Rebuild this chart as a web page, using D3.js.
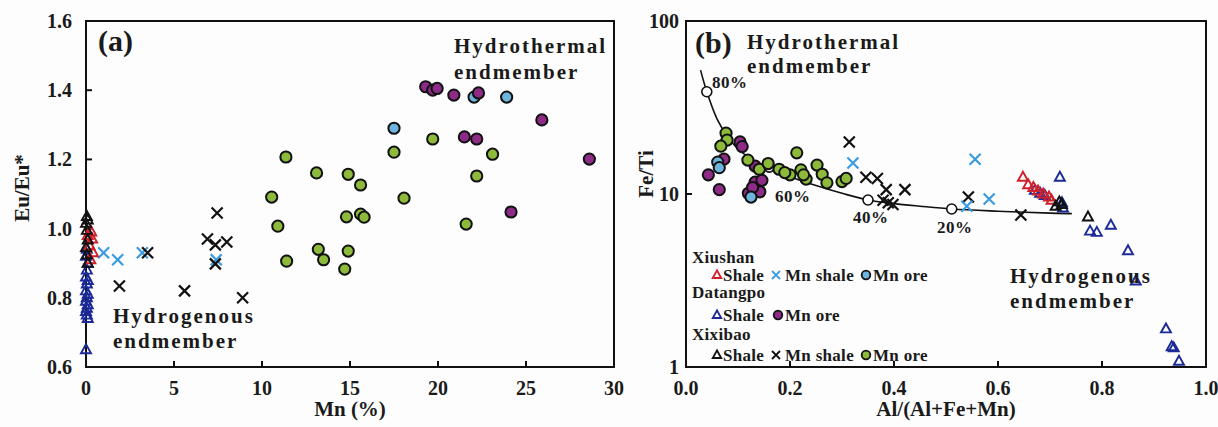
<!DOCTYPE html>
<html>
<head>
<meta charset="utf-8">
<script src="https://cdn.jsdelivr.net/npm/d3@7"></script>
<style>
  html, body { margin: 0; padding: 0; background: #fdfdfd; }
  svg { display: block; }
  text { font-family: "Liberation Serif", "Times New Roman", serif; font-weight: bold; fill: #1a1a1a; }
</style>
</head>
<body>
<svg id="chart" width="1218" height="427"></svg>
<script>
// ---------- Panel (a): Mn (%) vs Eu/Eu* ----------
const aTicksX = [0, 5, 10, 15, 20, 25, 30];
const aTicksY = [0.6, 0.8, 1.0, 1.2, 1.4, 1.6];

const aXiushanShale   = [[0.3,0.99],[0.1,0.98],[0.35,0.97],[0.2,0.95],[0.4,0.93],[0.25,0.91]];
const aXiushanMnShale = [[1.0,0.93],[1.8,0.91],[3.2,0.93],[7.4,0.91]];
const aXiushanMnOre   = [[17.5,1.29],[22.05,1.38],[23.9,1.38]];
const aDatangpoShale  = [[0.05,0.94],[0.0,0.92],[0.1,0.90],[0.05,0.88],[0.0,0.86],[0.1,0.85],[0.05,0.84],
                         [0.0,0.82],[0.1,0.81],[0.05,0.80],[0.0,0.79],[0.1,0.78],[0.05,0.77],[0.0,0.76],
                         [0.05,0.75],[0.1,0.74],[0.0,0.65]];
const aDatangpoMnOre  = [[19.3,1.41],[19.7,1.40],[19.95,1.405],[20.9,1.386],[22.3,1.392],[25.9,1.314],
                         [21.5,1.265],[22.2,1.259],[28.6,1.201],[24.15,1.048]];
const aXixibaoShale   = [[0.05,1.035],[0.1,1.025],[0.0,1.015],[0.05,0.995],[0.1,0.967],[0.0,0.945],
                         [0.05,0.924],[0.1,0.90]];
const aXixibaoMnShale = [[3.5,0.93],[1.9,0.834],[5.6,0.82],[8.9,0.80],[7.45,1.045],[6.9,0.97],
                         [7.35,0.953],[8.0,0.961],[7.35,0.898]];
const aXixibaoMnOre   = [[11.36,1.207],[13.1,1.161],[14.9,1.157],[15.6,1.126],[10.55,1.091],[10.9,1.007],
                         [14.8,1.034],[15.6,1.042],[15.8,1.033],[13.2,0.94],[13.5,0.91],[14.9,0.935],
                         [14.7,0.883],[11.4,0.906],[17.5,1.221],[19.7,1.259],[23.1,1.215],[22.2,1.152],
                         [18.07,1.088],[21.6,1.013]];

// ---------- Panel (b): Al/(Al+Fe+Mn) vs Fe/Ti ----------
const bTicksX = [0.0, 0.2, 0.4, 0.6, 0.8, 1.0];
const bTicksY = [1, 10, 100];

const bXiushanShale   = [[0.648,12.5],[0.658,11.3],[0.668,10.9],[0.677,10.4],[0.687,10.0],[0.698,9.6],[0.703,9.2]];
const bXiushanMnShale = [[0.321,15.1],[0.556,15.9],[0.583,9.35],[0.54,8.5]];
const bXiushanMnOre   = [[0.061,15.3],[0.064,14.2],[0.125,9.6]];
const bDatangpoShale  = [[0.671,10.5],[0.681,10.1],[0.69,9.8],[0.719,12.5],[0.723,8.9],[0.725,8.3],
                         [0.777,6.1],[0.79,6.0],[0.817,6.6],[0.85,4.7],[0.865,3.14],[0.923,1.66],
                         [0.934,1.31],[0.938,1.29],[0.948,1.08]];
const bDatangpoMnOre  = [[0.043,12.9],[0.064,10.6],[0.073,15.9],[0.104,20.0],[0.108,18.8],[0.133,14.5],
                         [0.133,11.7],[0.146,12.0],[0.12,10.1],[0.142,10.3],[0.128,10.9]];
const bXixibaoShale   = [[0.711,8.5],[0.718,9.0],[0.723,8.7],[0.773,7.36]];
const bXixibaoMnShale = [[0.314,20.0],[0.346,12.5],[0.368,12.3],[0.385,10.6],[0.421,10.6],[0.379,9.2],
                         [0.389,8.9],[0.398,8.7],[0.543,9.6],[0.644,7.56]];
const bXixibaoMnOre   = [[0.077,22.5],[0.079,20.5],[0.067,18.9],[0.119,15.7],[0.141,13.9],[0.158,15.0],
                         [0.179,13.9],[0.2,12.9],[0.213,17.3],[0.221,13.8],[0.231,12.2],[0.252,14.7],
                         [0.262,13.0],[0.271,11.6],[0.3,11.8],[0.308,12.3],[0.19,13.3],[0.226,12.9]];

// Hydrothermal–hydrogenous mixing curve and its percentage marks
const mixCurve = [[0.028,52],[0.04,39],[0.06,27],[0.08,21.5],[0.10,18.2],[0.14,15],[0.2,12.6],
                  [0.25,11.2],[0.3,10.1],[0.35,9.23],[0.4,8.8],[0.45,8.5],[0.511,8.19],[0.6,7.95],
                  [0.7,7.75],[0.742,7.7]];
const mixMarks = [[0.04,39],[0.16,14.3],[0.35,9.23],[0.511,8.19]];
const mixLabels = ["80%", "60%", "40%", "20%"];

// ---------- Styles ----------
const C = {
  green: "#8dba3b", purple: "#8d2b86", lightBlue: "#6db5dc", blueX: "#3b9be0",
  red: "#d0202a", navy: "#1b2a96", black: "#111111"
};

const svg = d3.select("#chart");
svg.append("rect").attr("width", 1218).attr("height", 427).attr("fill", "#fdfdfd");

const xA = d3.scaleLinear().domain([0, 30]).range([86, 614]);
const yA = d3.scaleLinear().domain([0.6, 1.6]).range([367, 21]);
const xB = d3.scaleLinear().domain([0, 1]).range([686, 1206]);
const yB = d3.scaleLog().domain([1, 100]).range([367, 21]);

function triPath(s) { return `M0,${-s*1.1}L${s},${s*0.7}L${-s},${s*0.7}Z`; }

function drawCircles(g, data, xs, ys, fill, r = 5.6) {
  g.selectAll(null).data(data).enter().append("circle")
    .attr("cx", d => xs(d[0])).attr("cy", d => ys(d[1])).attr("r", r)
    .attr("fill", fill).attr("stroke", C.black).attr("stroke-width", 2);
}
function drawCrosses(g, data, xs, ys, color, s = 5.5) {
  g.selectAll(null).data(data).enter().append("path")
    .attr("transform", d => `translate(${xs(d[0])},${ys(d[1])})`)
    .attr("d", `M${-s},${-s}L${s},${s}M${-s},${s}L${s},${-s}`)
    .attr("stroke", color).attr("stroke-width", 2.2).attr("fill", "none");
}
function drawTriangles(g, data, xs, ys, color, s = 5) {
  g.selectAll(null).data(data).enter().append("path")
    .attr("transform", d => `translate(${xs(d[0])},${ys(d[1])})`)
    .attr("d", triPath(s))
    .attr("stroke", color).attr("stroke-width", 1.9).attr("fill", "none");
}

function frame(xs, ys, xTicks, yTicks, yFmt, xFmt, yLabelGap) {
  const g = svg.append("g");
  const [x0, x1] = xs.range(), [y0, y1] = ys.range();
  g.append("rect").attr("x", x0).attr("y", y1).attr("width", x1 - x0).attr("height", y0 - y1)
    .attr("fill", "none").attr("stroke", C.black).attr("stroke-width", 2);
  // inward ticks
  const xt = xTicks.filter(v => xs(v) > x0 + 1 && xs(v) < x1 - 1);
  g.selectAll(null).data(xt).enter().append("line")
    .attr("x1", d => xs(d)).attr("x2", d => xs(d)).attr("y1", y0).attr("y2", y0 - 6)
    .attr("stroke", C.black).attr("stroke-width", 2);
  const yt = yTicks.filter(v => ys(v) > y1 + 1 && ys(v) < y0 - 1);
  g.selectAll(null).data(yt).enter().append("line")
    .attr("x1", x0).attr("x2", x0 + 6).attr("y1", d => ys(d)).attr("y2", d => ys(d))
    .attr("stroke", C.black).attr("stroke-width", 2);
  g.selectAll(null).data(xTicks).enter().append("text")
    .attr("x", d => xs(d)).attr("y", 395).attr("text-anchor", "middle")
    .attr("font-size", 20).text(xFmt);
  g.selectAll(null).data(yTicks).enter().append("text")
    .attr("x", x0 - yLabelGap).attr("y", d => ys(d) + 7).attr("text-anchor", "end")
    .attr("font-size", 20).text(yFmt);
  return g;
}

// ---------- Panel (a) ----------
frame(xA, yA, aTicksX, aTicksY, d => d.toFixed(1), d => d, 14);
const gA = svg.append("g");
drawCircles(gA, aXixibaoMnOre, xA, yA, C.green);
drawCircles(gA, aXiushanMnOre, xA, yA, C.lightBlue);
drawCircles(gA, aDatangpoMnOre, xA, yA, C.purple);
drawCrosses(gA, aXiushanMnShale, xA, yA, C.blueX);
drawCrosses(gA, aXixibaoMnShale, xA, yA, C.black);
drawTriangles(gA, aDatangpoShale, xA, yA, C.navy);
drawTriangles(gA, aXiushanShale, xA, yA, C.red);
drawTriangles(gA, aXixibaoShale, xA, yA, C.black);

svg.append("text").attr("x", 98).attr("y", 51).attr("font-size", 30).text("(a)");
svg.append("text").attr("transform", "translate(29,188) rotate(-90)").attr("text-anchor", "middle")
  .attr("font-size", 21).text("Eu/Eu*");
svg.append("text").attr("x", 350).attr("y", 416).attr("text-anchor", "middle")
  .attr("font-size", 21).text("Mn (%)");

function twoLine(x, y1, y2, l1, l2) {
  [[y1, l1], [y2, l2]].forEach(([y, t]) =>
    svg.append("text").attr("x", x).attr("y", y).attr("font-size", 21)
      .attr("letter-spacing", 2).text(t));
}
twoLine(454, 53, 79, "Hydrothermal", "endmember");
twoLine(113, 323, 348, "Hydrogenous", "endmember");

// ---------- Panel (b) ----------
frame(xB, yB, bTicksX, bTicksY, d => d, d => d.toFixed(1), 7);
const gB = svg.append("g");
gB.append("path").datum(mixCurve)
  .attr("d", d3.line().x(d => xB(d[0])).y(d => yB(d[1])).curve(d3.curveCatmullRom))
  .attr("fill", "none").attr("stroke", C.black).attr("stroke-width", 1.6);
gB.selectAll(null).data(mixMarks).enter().append("circle")
  .attr("cx", d => xB(d[0])).attr("cy", d => yB(d[1])).attr("r", 5)
  .attr("fill", "#ffffff").attr("stroke", C.black).attr("stroke-width", 1.6);
drawCircles(gB, bDatangpoMnOre, xB, yB, C.purple);
drawCircles(gB, bXiushanMnOre, xB, yB, C.lightBlue);
drawCircles(gB, bXixibaoMnOre, xB, yB, C.green);
drawCrosses(gB, bXixibaoMnShale, xB, yB, C.black);
drawCrosses(gB, bXiushanMnShale, xB, yB, C.blueX);
drawTriangles(gB, bDatangpoShale, xB, yB, C.navy);
drawTriangles(gB, bXiushanShale, xB, yB, C.red);
drawTriangles(gB, bXixibaoShale, xB, yB, C.black);

const pctPos = [[712, 88], [775, 202], [853, 223], [937, 233]];
mixLabels.forEach((t, i) =>
  svg.append("text").attr("x", pctPos[i][0]).attr("y", pctPos[i][1]).attr("font-size", 17)
    .attr("letter-spacing", 0.5).text(t));

svg.append("text").attr("x", 695).attr("y", 53).attr("font-size", 30).text("(b)");
svg.append("text").attr("transform", "translate(653,174) rotate(-90)").attr("text-anchor", "middle")
  .attr("font-size", 21).text("Fe/Ti");
svg.append("text").attr("x", 946).attr("y", 416).attr("text-anchor", "middle")
  .attr("font-size", 21).text("Al/(Al+Fe+Mn)");
twoLine(747, 49, 73, "Hydrothermal", "endmember");
twoLine(1010, 283, 308, "Hydrogenous", "endmember");

// ---------- Legend ----------
const lg = svg.append("g");
const legendFont = 17;
function lgText(x, y, t) {
  lg.append("text").attr("x", x).attr("y", y).attr("font-size", legendFont)
    .attr("letter-spacing", 0.3).text(t);
}
function lgTri(x, y, c) {
  lg.append("path").attr("transform", `translate(${x},${y})`).attr("d", triPath(4.2))
    .attr("stroke", c).attr("stroke-width", 1.9).attr("fill", "none");
}
function lgX(x, y, c) {
  const s = 4;
  lg.append("path").attr("transform", `translate(${x},${y})`)
    .attr("d", `M${-s},${-s}L${s},${s}M${-s},${s}L${s},${-s}`)
    .attr("stroke", c).attr("stroke-width", 1.8);
}
function lgO(x, y, c) {
  lg.append("circle").attr("cx", x).attr("cy", y).attr("r", 4.3)
    .attr("fill", c).attr("stroke", C.black).attr("stroke-width", 1.8);
}
lgText(692, 263, "Xiushan");
lgTri(717, 275, C.red);  lgText(723, 281, "Shale");
lgX(776, 275, C.blueX);  lgText(785, 281, "Mn shale");
lgO(866, 275, C.lightBlue); lgText(873, 281, "Mn ore");
lgText(692, 298, "Datangpo");
lgTri(717, 315, C.navy); lgText(723, 321, "Shale");
lgO(778, 315, C.purple); lgText(785, 321, "Mn ore");
lgText(692, 340, "Xixibao");
lgTri(717, 355, C.black); lgText(723, 361, "Shale");
lgX(776, 355, C.black);  lgText(785, 361, "Mn shale");
lgO(866, 355, C.green);  lgText(873, 361, "Mn ore");
</script>
</body>
</html>
